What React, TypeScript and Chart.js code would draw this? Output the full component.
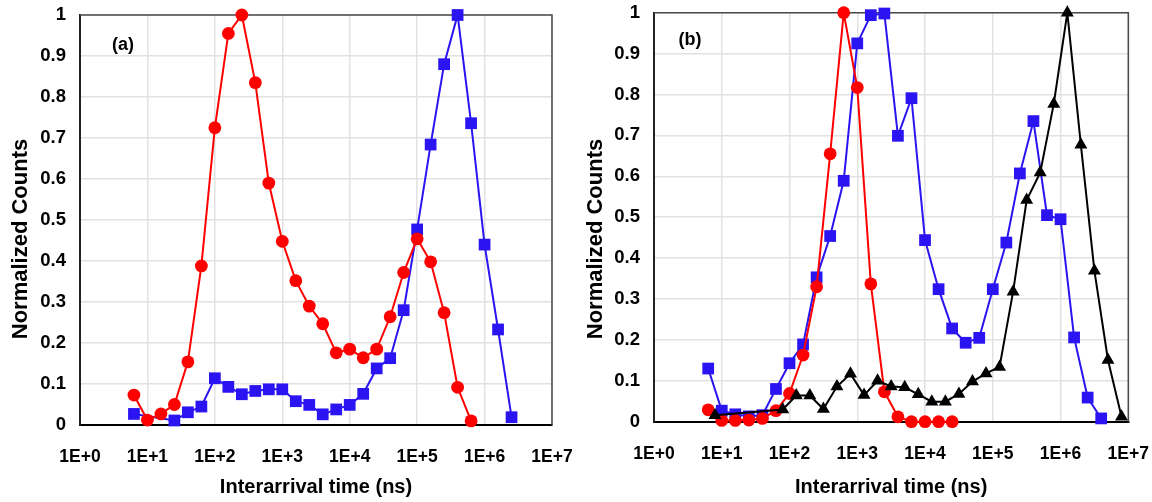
import React, { useEffect, useRef } from "react";
import { Chart, registerables } from "chart.js";

Chart.register(...registerables);

const FONT = "'Liberation Sans', Arial, Helvetica, sans-serif";
const RED = "#ff0000";
const BLUE = "#2b14f2";
const BLACK = "#000000";

const xTickValues = [1, 10, 100, 1000, 10000, 100000, 1000000, 10000000];
const xTickLabels = ["1E+0", "1E+1", "1E+2", "1E+3", "1E+4", "1E+5", "1E+6", "1E+7"];
const yTickValues = [0, 0.1, 0.2, 0.3, 0.4, 0.5, 0.6, 0.7, 0.8, 0.9, 1];
const yTickLabels = ["0", "0.1", "0.2", "0.3", "0.4", "0.5", "0.6", "0.7", "0.8", "0.9", "1"];
const xTitle = "Interarrival time (ns)";
const yTitle = "Normalized Counts";

// Panel (a)
const aRedX = [6.31, 10, 15.85, 25.12, 39.81, 63.1, 100, 158.5, 251.2, 398.1, 631, 1000, 1585, 2512, 3981, 6310, 10000, 15850, 25120, 39810, 63100, 100000, 158500, 251200, 398100, 631000];
const aRedY = [0.073, 0.012, 0.027, 0.05, 0.154, 0.388, 0.725, 0.955, 1.0, 0.835, 0.59, 0.448, 0.352, 0.29, 0.247, 0.176, 0.185, 0.164, 0.185, 0.264, 0.372, 0.454, 0.398, 0.274, 0.092, 0.01];
const aBlueX = [6.31, 25.12, 39.81, 63.1, 100, 158.5, 251.2, 398.1, 631, 1000, 1585, 2512, 3981, 6310, 10000, 15850, 25120, 39810, 63100, 100000, 158500, 251200, 398100, 631000, 1000000, 1585000, 2512000];
const aBlueY = [0.027, 0.011, 0.031, 0.045, 0.114, 0.093, 0.075, 0.083, 0.087, 0.087, 0.058, 0.049, 0.026, 0.038, 0.049, 0.076, 0.138, 0.163, 0.28, 0.477, 0.684, 0.88, 1.0, 0.736, 0.44, 0.233, 0.019];

// Panel (b)
const bRedX = [6.31, 10, 15.85, 25.12, 39.81, 63.1, 100, 158.5, 251.2, 398.1, 631, 1000, 1585, 2512, 3981, 6310, 10000, 15850, 25120];
const bRedY = [0.029, 0.003, 0.003, 0.004, 0.008, 0.027, 0.069, 0.163, 0.33, 0.655, 1.0, 0.817, 0.337, 0.073, 0.012, 0.0, 0.0, 0.0, 0.0];
const bBlueX = [6.31, 10, 15.85, 25.12, 39.81, 63.1, 100, 158.5, 251.2, 398.1, 631, 1000, 1585, 2512, 3981, 6310, 10000, 15850, 25120, 39810, 63100, 100000, 158500, 251200, 398100, 631000, 1000000, 1585000, 2512000, 3981000];
const bBlueY = [0.13, 0.027, 0.018, 0.013, 0.016, 0.08, 0.143, 0.189, 0.353, 0.454, 0.589, 0.925, 0.994, 0.998, 0.699, 0.791, 0.444, 0.324, 0.228, 0.193, 0.205, 0.324, 0.438, 0.607, 0.735, 0.505, 0.495, 0.206, 0.059, 0.008];
const bBlackX = [7.94, 79.4, 125.9, 199.5, 316.2, 501.2, 794.3, 1259, 1995, 3162, 5012, 7943, 12589, 19953, 31623, 50119, 79433, 125893, 199526, 316228, 501187, 794328, 1258925, 1995262, 3162278, 5011872, 7943282];
const bBlackY = [0.016, 0.03, 0.064, 0.064, 0.031, 0.086, 0.117, 0.065, 0.1, 0.086, 0.084, 0.067, 0.049, 0.049, 0.068, 0.098, 0.118, 0.134, 0.318, 0.542, 0.609, 0.777, 1.0, 0.677, 0.369, 0.151, 0.012];

function pts(xs: number[], ys: number[]) {
  return xs.map((x, i) => ({ x, y: ys[i] }));
}

function ds(xs: number[], ys: number[], color: string, style: string, radius: number) {
  return {
    data: pts(xs, ys),
    borderColor: color,
    backgroundColor: color,
    pointBackgroundColor: color,
    borderWidth: 2,
    pointStyle: style,
    pointRadius: radius,
    pointHoverRadius: radius,
    pointBorderWidth: 0,
    tension: 0,
    clip: false,
  };
}

type PanelProps = {
  left: number;
  datasets: any[];
  pad: { left: number; top: number; right: number; bottom: number };
  yWidth: number;
  xHeight: number;
  yTitlePos: [number, number];
  tag: string;
  tagPos: [number, number];
};

const W = 576;
const H = 502;

function zeroPad(s: any) {
  s.paddingTop = 0;
  s.paddingBottom = 0;
  s.paddingLeft = 0;
  s.paddingRight = 0;
}

function Panel({ left, datasets, pad, yWidth, xHeight, yTitlePos, tag, tagPos }: PanelProps) {
  const ref = useRef<HTMLCanvasElement | null>(null);
  useEffect(() => {
    if (!ref.current) return;
    const framePlugin = {
      id: "frameAndTag",
      beforeDatasetsDraw(chart: any) {
        const { ctx, chartArea: a } = chart;
        ctx.save();
        ctx.strokeStyle = "#4a4a4a";
        ctx.lineWidth = 1.5;
        ctx.beginPath();
        ctx.moveTo(a.left, a.top);
        ctx.lineTo(a.right, a.top);
        ctx.lineTo(a.right, a.bottom);
        ctx.stroke();
        ctx.restore();
      },
      afterDraw(chart: any) {
        const ctx = chart.ctx;
        ctx.save();
        ctx.fillStyle = "#000";
        ctx.textAlign = "center";
        ctx.textBaseline = "middle";
        ctx.font = `bold 18px ${FONT}`;
        ctx.fillText(tag, tagPos[0], tagPos[1]);
        ctx.translate(yTitlePos[0], yTitlePos[1]);
        ctx.rotate(-Math.PI / 2);
        ctx.font = `bold 22px ${FONT}`;
        ctx.fillText(yTitle, 0, 0);
        ctx.restore();
      },
    };
    const chart: any = new Chart(ref.current, {
      type: "line",
      data: { datasets },
      options: {
        animation: false,
        responsive: false,
        maintainAspectRatio: false,
        events: [],
        layout: { padding: pad },
        plugins: { legend: { display: false }, tooltip: { enabled: false } },
        scales: {
          x: {
            type: "logarithmic",
            min: 1,
            max: 10000000,
            afterBuildTicks: (s: any) => {
              s.ticks = xTickValues.map((v) => ({ value: v }));
            },
            afterFit: (s: any) => {
              s.height = xHeight;
              zeroPad(s);
            },
            ticks: {
              autoSkip: false,
              maxRotation: 0,
              minRotation: 0,
              padding: 21.5,
              color: "#000",
              font: { size: 17.5, weight: "bold", family: FONT },
              callback: (_v: any, i: number) => xTickLabels[i],
            },
            grid: { color: "#e2e2e2", lineWidth: 1.5, drawTicks: false },
            border: { color: "#000", width: 2 },
            title: {
              display: true,
              text: xTitle,
              color: "#000",
              font: { size: 20, weight: "bold", family: FONT },
              padding: { top: 0, bottom: 3 },
            },
          },
          y: {
            type: "linear",
            min: 0,
            max: 1,
            afterBuildTicks: (s: any) => {
              s.ticks = yTickValues.map((v) => ({ value: v }));
            },
            afterFit: (s: any) => {
              s.width = yWidth;
              zeroPad(s);
            },
            ticks: {
              autoSkip: false,
              padding: 14,
              color: "#000",
              font: { size: 18.5, weight: "bold", family: FONT },
              callback: (_v: any, i: number) => yTickLabels[i],
            },
            grid: { color: "#e2e2e2", lineWidth: 1.5, drawTicks: false },
            border: { color: "#222", width: 2 },
            title: { display: false },
          },
        },
      } as any,
      plugins: [framePlugin],
    } as any);
    return () => chart.destroy();
  }, []);
  return (
    <canvas
      ref={ref}
      width={W}
      height={H}
      style={{ position: "absolute", left, top: 0, width: W, height: H, display: "block" }}
    />
  );
}

export default function App() {
  useEffect(() => {
    document.body.style.margin = "0";
  }, []);
  const dsA = [ds(aRedX, aRedY, RED, "circle", 6.4), ds(aBlueX, aBlueY, BLUE, "rect", 8.3)];
  const dsB = [
    ds(bBlackX, bBlackY, BLACK, "triangle", 7.5),
    ds(bRedX, bRedY, RED, "circle", 6.4),
    ds(bBlueX, bBlueY, BLUE, "rect", 8.3),
  ];
  return (
    <div style={{ position: "fixed", left: 0, top: 0, width: 1152, height: 502, background: "#fff", overflow: "hidden" }}>
      <Panel
        left={0}
        datasets={dsA}
        pad={{ left: 0, top: 15, right: 24, bottom: 0 }}
        yWidth={80}
        xHeight={77}
        yTitlePos={[21, 239]}
        tag="(a)"
        tagPos={[123, 45]}
      />
      <Panel
        left={576}
        datasets={dsB}
        pad={{ left: 0, top: 12.7, right: 23.7, bottom: 0 }}
        yWidth={78}
        xHeight={80.3}
        yTitlePos={[20, 239]}
        tag="(b)"
        tagPos={[114, 40]}
      />
    </div>
  );
}
